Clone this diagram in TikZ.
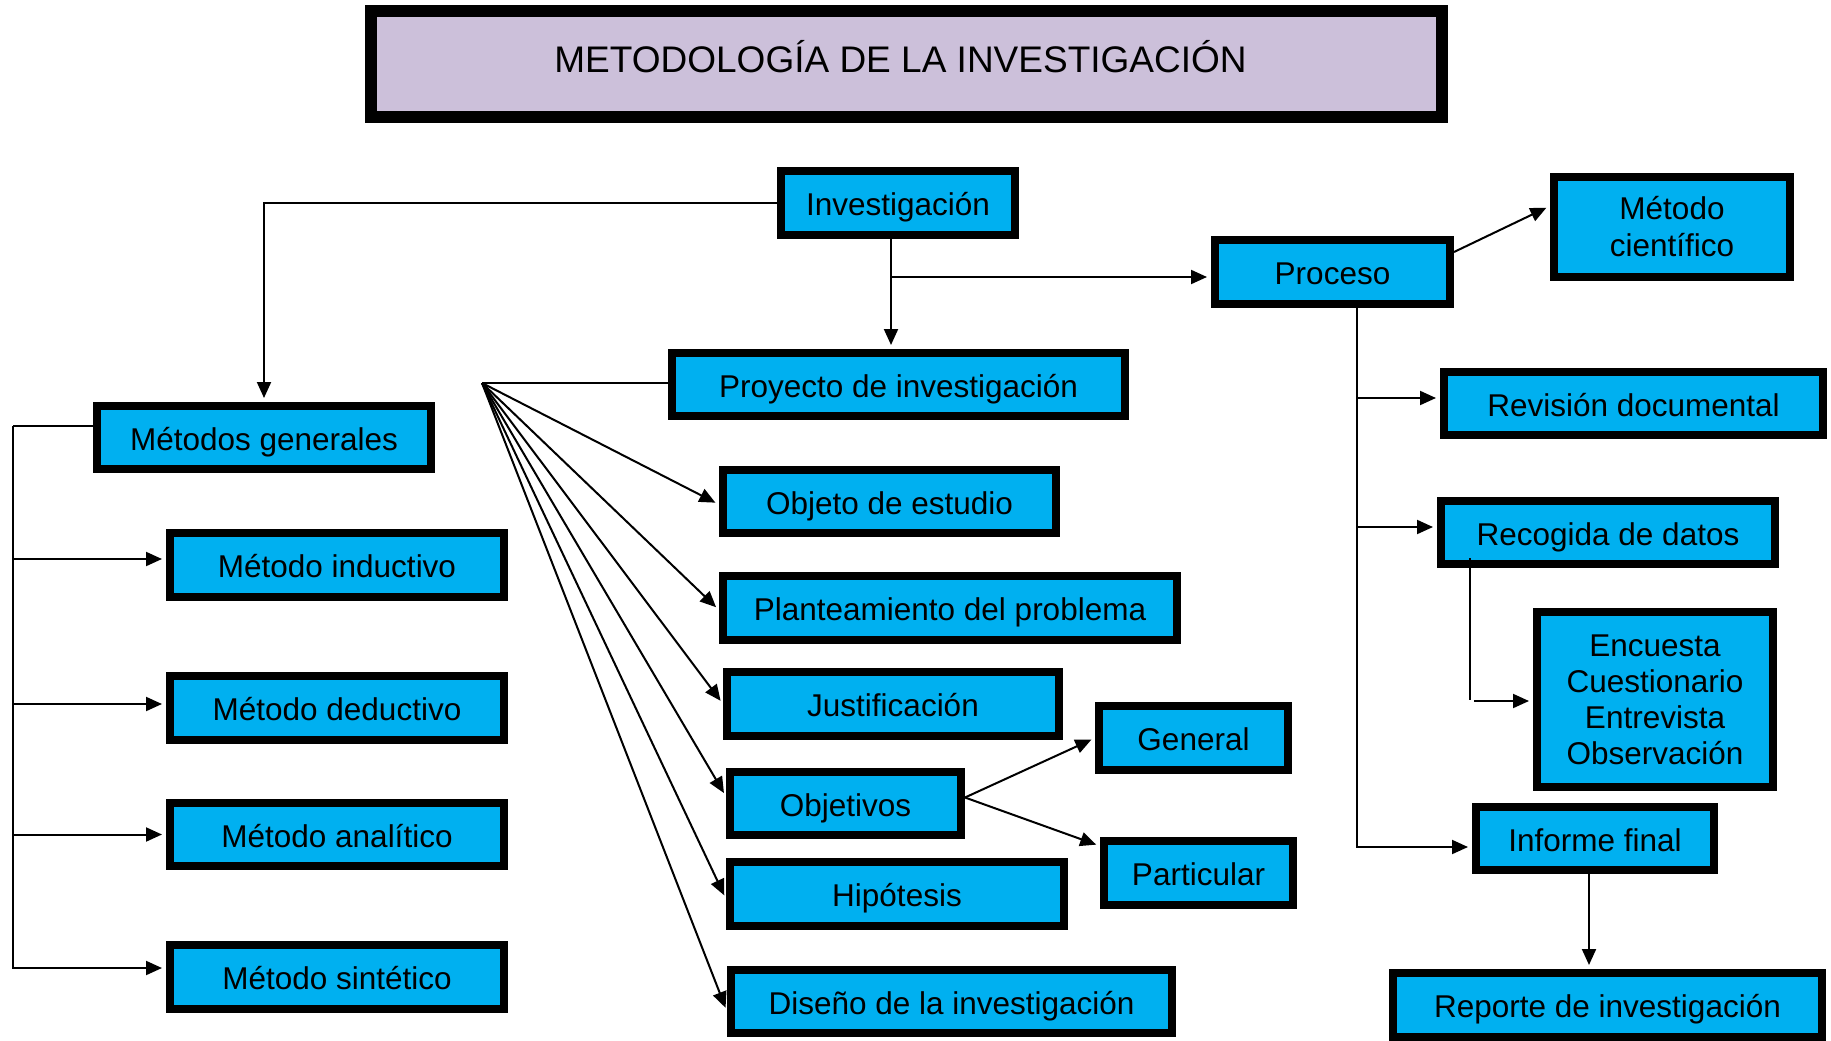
\documentclass[tikz,border=0pt]{standalone}
\usepackage{fontspec}
\setmainfont{Liberation Sans}
\usetikzlibrary{arrows.meta,calc}
\definecolor{boxblue}{RGB}{0,176,240}
\definecolor{lilac}{RGB}{204,192,218}
\begin{document}
\begin{tikzpicture}[x=1pt,y=-1pt,
  box/.style={draw=black, line width=8pt, fill=boxblue, inner sep=0pt,
    font=\fontsize{31.5}{36}\selectfont, text height=30pt, text depth=5pt},
  multibox/.style={box, align=center, text height={}, text depth={}},
  conn/.style={line width=2pt},
  arr/.style={conn, -{Triangle[length=16pt,width=14pt]}, shorten >=4pt}]
\useasboundingbox (0,0) rectangle (1831,1041);

% title
\node[box, line width=12pt, fill=lilac, minimum width=1071pt, minimum height=106pt,
  font=\fontsize{37}{40}\selectfont, text height=26pt, text depth=8pt]
  (title) at (906.5,64) {METODOLOGÍA DE LA INVESTIGACIÓN\hspace*{12pt}};

% nodes
\node[box, minimum width=234pt, minimum height=64pt] (inv) at (898,203) {Investigación};
\node[box, minimum width=334pt, minimum height=63pt] (metgen) at (264,437.5) {Métodos generales};
\node[box, minimum width=453pt, minimum height=63pt] (proy) at (898.5,384.5) {Proyecto de investigación};
\node[box, minimum width=333pt, minimum height=63pt] (objeto) at (889.5,501.5) {Objeto de estudio};
\node[box, minimum width=235pt, minimum height=64pt] (proceso) at (1332.5,272) {Proceso};
\node[multibox, minimum width=236pt, minimum height=100pt,
  font=\fontsize{31.5}{37}\selectfont] (metcien) at (1672,227) {Método\\científico};
\node[box, minimum width=379pt, minimum height=63pt] (revdoc) at (1633.5,403.5) {Revisión documental};
\node[box, minimum width=334pt, minimum height=63pt] (recog) at (1608,532.5) {Recogida de datos};

\node[box, minimum width=334pt, minimum height=64pt] (induc) at (337,565) {Método inductivo};
\node[box, minimum width=334pt, minimum height=64pt] (deduc) at (337,708) {Método deductivo};
\node[box, minimum width=334pt, minimum height=63pt] (anal) at (337,834.5) {Método analítico};
\node[box, minimum width=334pt, minimum height=64pt] (sint) at (337,977) {Método sintético};

\node[box, minimum width=454pt, minimum height=64pt] (plant) at (950,608) {Planteamiento del problema};
\node[box, minimum width=332pt, minimum height=64pt] (just) at (893,704) {Justificación};
\node[box, minimum width=231pt, minimum height=63pt] (objet) at (845.5,803.5) {Objetivos};
\node[box, minimum width=334pt, minimum height=64pt] (hip) at (897,894) {Hipótesis};
\node[box, minimum width=441pt, minimum height=63pt] (dis) at (951.5,1001.5) {Diseño de la investigación};
\node[box, minimum width=189pt, minimum height=64pt] (gen) at (1193.5,738) {General};
\node[box, minimum width=189pt, minimum height=64pt] (part) at (1198.5,873) {Particular};

\node[multibox, minimum width=236pt, minimum height=175pt] (enc) at (1655,699.5)
  {Encuesta\\Cuestionario\\Entrevista\\Observación};
\node[box, minimum width=238pt, minimum height=63pt] (inf) at (1595,838.5) {Informe final};
\node[box, minimum width=429pt, minimum height=64pt] (rep) at (1607.5,1005) {Reporte de investigación};

% connectors
\draw[arr] (inv.west) -| (metgen.north);
\coordinate (iv) at ($(inv.south)+(-7,0)$);
\draw[arr] (iv) -- (iv |- proy.north);
\coordinate (b1) at (891,277);
\draw[arr] (b1) -- (b1 -| proceso.west);

\coordinate (fan) at (482,383);
\draw[conn] (fan -| proy.west) -- (fan);
\foreach \n/\d in {objeto/3, plant/2, just/0, objet/-7, hip/5, dis/10}
  \draw[arr] (fan) -- ($(\n.west)+(0,\d)$);

\coordinate (m0) at (13,426);
\draw[conn] (m0 -| metgen.west) -- (m0);
\foreach \n/\d in {induc/-6, deduc/-4, anal/0, sint/-9}
  \draw[arr] (m0) |- ($(\n.west)+(0,\d)$);

\coordinate (o0) at ($(objet.east)+(0,-6)$);
\draw[arr] (o0) -- (gen.west);
\draw[arr] (o0) -- ($(part.west)+(0,-27)$);

\draw[arr] ($(proceso.east)+(0,-20)$) -- ($(metcien.west)+(0,-21)$);

\coordinate (p0) at ($(proceso.south)+(24.5,0)$);
\draw[arr] (p0) |- ($(revdoc.west)+(0,-5.5)$);
\draw[arr] (p0) |- ($(recog.west)+(0,-5.5)$);
\draw[arr] (p0) |- ($(inf.west)+(0,8.5)$);

\coordinate (r1) at (1470,558);
\coordinate (r2) at (1470,700);
\coordinate (r3) at (1474,701);
\draw[conn] (r1) -- (r2);
\draw[arr] (r3) -- (r3 -| enc.west);

\coordinate (i1) at ($(inf.south)+(-6,0)$);
\draw[arr] (i1) -- (i1 |- rep.north);
\end{tikzpicture}
\end{document}
